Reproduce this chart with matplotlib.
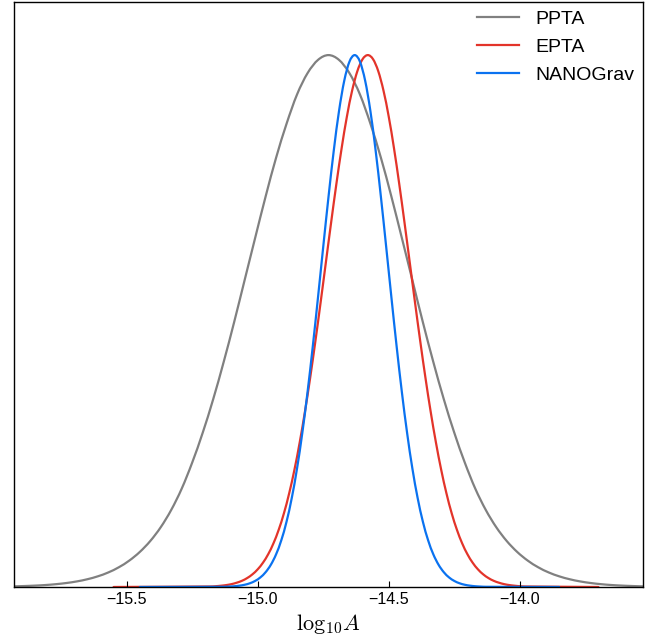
import matplotlib
matplotlib.use('Agg')
import matplotlib.pyplot as plt
from matplotlib.path import Path
from matplotlib.patches import PathPatch

plt.rcParams['font.family'] = ['Liberation Sans', 'DejaVu Sans']
plt.rcParams['mathtext.fontset'] = 'cm'

# normalised posterior of log10 A
ppta_x = [-15.93, -15.89, -15.85, -15.81, -15.77, -15.73, -15.69, -15.65, -15.61, -15.57,
          -15.53, -15.49, -15.45, -15.41, -15.37, -15.33, -15.29, -15.25, -15.21, -15.17,
          -15.13, -15.09, -15.05, -15.01, -14.97, -14.93, -14.89, -14.85, -14.81, -14.77,
          -14.73, -14.69, -14.65, -14.61, -14.57, -14.53, -14.49, -14.45, -14.41, -14.37,
          -14.33, -14.29, -14.25, -14.21, -14.17, -14.13, -14.09, -14.05, -14.01, -13.97,
          -13.93, -13.89, -13.85, -13.81, -13.77, -13.73, -13.69, -13.65, -13.61, -13.57,
          -13.53]
ppta_y = [0.0012, 0.0018, 0.0026, 0.0037, 0.0053, 0.0075, 0.0105, 0.0146, 0.0201, 0.0274,
          0.0371, 0.0497, 0.0659, 0.0865, 0.1125, 0.145, 0.185, 0.234, 0.290, 0.353,
          0.423, 0.498, 0.577, 0.656, 0.734, 0.807, 0.871, 0.926, 0.966, 0.991,
          1.000, 0.991, 0.966, 0.926, 0.871, 0.807, 0.734, 0.656, 0.577, 0.498,
          0.423, 0.353, 0.290, 0.234, 0.185, 0.145, 0.1125, 0.0865, 0.0659, 0.0497,
          0.0371, 0.0274, 0.0201, 0.0146, 0.0105, 0.0075, 0.0053, 0.0037, 0.0026, 0.0018,
          0.0012]

epta_x = [-15.55,
          -15.18, -15.16, -15.14, -15.12, -15.10, -15.08, -15.06, -15.04, -15.02, -15.00,
          -14.98, -14.96, -14.94, -14.92, -14.90, -14.88, -14.86, -14.84, -14.82, -14.80,
          -14.78, -14.76, -14.74, -14.72, -14.70, -14.68, -14.66, -14.64, -14.62, -14.60,
          -14.58, -14.56, -14.54, -14.52, -14.50, -14.48, -14.46, -14.44, -14.42, -14.40,
          -14.38, -14.36, -14.34, -14.32, -14.30, -14.28, -14.26, -14.24, -14.22, -14.20,
          -14.18, -14.16, -14.14, -14.12, -14.10, -14.08, -14.06, -14.04, -14.02, -14.00,
          -13.98,
          -13.70]
epta_y = [0.0,
          0.0010, 0.0015, 0.0024, 0.0036, 0.0054, 0.0081, 0.0117, 0.0169, 0.0239, 0.0333,
          0.0457, 0.0617, 0.0821, 0.1076, 0.1387, 0.1762, 0.2204, 0.2715, 0.3292, 0.3931,
          0.4623, 0.5353, 0.6103, 0.6852, 0.7575, 0.8246, 0.8839, 0.9329, 0.9696, 0.9923,
          1.0000, 0.9923, 0.9696, 0.9329, 0.8839, 0.8246, 0.7575, 0.6852, 0.6103, 0.5353,
          0.4623, 0.3931, 0.3292, 0.2715, 0.2204, 0.1762, 0.1387, 0.1076, 0.0821, 0.0617,
          0.0457, 0.0333, 0.0239, 0.0169, 0.0117, 0.0081, 0.0054, 0.0036, 0.0024, 0.0015,
          0.0010,
          0.0]

nanograv_x = [-15.45,
              -15.13, -15.11, -15.09, -15.07, -15.05, -15.03, -15.01, -14.99, -14.97, -14.95,
              -14.93, -14.91, -14.89, -14.87, -14.85, -14.83, -14.81, -14.79, -14.77, -14.75,
              -14.73, -14.71, -14.69, -14.67, -14.65, -14.63, -14.61, -14.59, -14.57, -14.55,
              -14.53, -14.51, -14.49, -14.47, -14.45, -14.43, -14.41, -14.39, -14.37, -14.35,
              -14.33, -14.31, -14.29, -14.27, -14.25, -14.23, -14.21, -14.19, -14.17, -14.15,
              -14.13,
              -13.85]
nanograv_y = [0.0,
              0.0004, 0.0008, 0.0014, 0.0025, 0.0042, 0.0070, 0.0114, 0.0180, 0.0278, 0.0418,
              0.0614, 0.0880, 0.1230, 0.1677, 0.2230, 0.2894, 0.3663, 0.4522, 0.5447, 0.6400,
              0.7334, 0.8200, 0.8944, 0.9516, 0.9877, 1.0000, 0.9877, 0.9516, 0.8944, 0.8200,
              0.7334, 0.6400, 0.5447, 0.4522, 0.3663, 0.2894, 0.2230, 0.1677, 0.1230, 0.0880,
              0.0614, 0.0418, 0.0278, 0.0180, 0.0114, 0.0070, 0.0042, 0.0025, 0.0014, 0.0008,
              0.0004,
              0.0]

labels = ['PPTA', 'EPTA', 'NANOGrav']
colors = ['#808080', '#e3342a', '#0a72f0']


def smooth_path(xs, ys):
    # cubic bezier segments through the read points (hermite tangents)
    n = len(xs)
    m = []
    for i in range(n):
        a = max(i - 1, 0)
        b = min(i + 1, n - 1)
        m.append((ys[b] - ys[a]) / (xs[b] - xs[a]))
    verts = [(xs[0], ys[0])]
    codes = [Path.MOVETO]
    for i in range(n - 1):
        h = xs[i + 1] - xs[i]
        verts += [(xs[i] + h / 3, ys[i] + m[i] * h / 3),
                  (xs[i + 1] - h / 3, ys[i + 1] - m[i + 1] * h / 3),
                  (xs[i + 1], ys[i + 1])]
        codes += [Path.CURVE4] * 3
    return Path(verts, codes)


fig = plt.figure(figsize=(6.67, 6.37), dpi=100)
ax = fig.add_axes([0.021, 0.0785, 0.943, 0.9185])

for xs, ys, c, lab in zip([ppta_x, epta_x, nanograv_x], [ppta_y, epta_y, nanograv_y],
                          colors, labels):
    ax.add_patch(PathPatch(smooth_path(xs, ys), fill=False, edgecolor=c, lw=1.6,
                           capstyle='round', joinstyle='round'))
    ax.plot([], [], color=c, lw=1.6, label=lab)

ax.set_xlim(-15.93, -13.53)
ax.set_ylim(0, 1.1)
ax.set_xticks([-15.5, -15.0, -14.5, -14.0])
ax.set_yticks([])
ax.tick_params(axis='x', direction='in', length=4, labelsize=11.5, top=False)
for s in ax.spines.values():
    s.set_linewidth(1.0)
ax.set_xlabel(r'$\mathrm{log}_{10}A$', fontsize=16, labelpad=4)

ax.legend(loc='upper right', frameon=False, fontsize=14, handlelength=2.14,
          handletextpad=0.85, labelspacing=0.53, borderaxespad=0.05)

fig.savefig('out.png', dpi=100)
